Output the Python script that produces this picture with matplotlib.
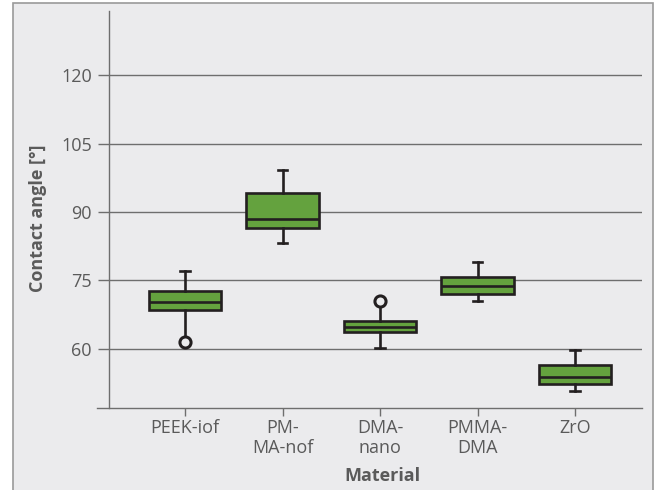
import matplotlib
matplotlib.use("Agg")
import matplotlib.pyplot as plt
from matplotlib.patches import Rectangle
from matplotlib.lines import Line2D

plt.rcParams['font.family'] = ['Open Sans', 'DejaVu Sans']

# data
materials = ["PEEK-iof", "PM-\nMA-nof", "DMA-\nnano", "PMMA-\nDMA", "ZrO"]
q1 = [68.4, 86.4, 63.7, 72.1, 52.2]
med = [70.2, 88.4, 64.8, 73.8, 53.8]
q3 = [72.6, 94.1, 66.0, 75.7, 56.5]
whis_lo = [61.5, 83.3, 60.2, 70.5, 50.7]
whis_hi = [77.0, 99.3, 70.4, 79.0, 59.7]
outliers = [[61.5], [], [70.4], [], []]
yticks = [60, 75, 90, 105, 120]

bg = '#ebebed'
txt = '#5a5a5a'
edge = '#231f20'
green = '#64a23e'
axc = '#6e6e6e'

fig = plt.figure(figsize=(6.6, 4.9), dpi=100)
fig.patch.set_facecolor('white')
fig.patches.append(Rectangle((12.5 / 660, -0.01), (653.3 - 12.5) / 660, 1 - 3.5 / 490 + 0.01,
                             transform=fig.transFigure, facecolor=bg,
                             edgecolor='#9a9a9a', lw=1.2, zorder=-5))

x0, x1, yb, yt = 108.5, 642, 407.5, 11
ax = fig.add_axes([x0 / 660, 1 - yb / 490, (x1 - x0) / 660, (yb - yt) / 490])
ax.set_facecolor('none')

stats = []
for i in range(len(materials)):
    stats.append(dict(med=med[i], q1=q1[i], q3=q3[i], whislo=whis_lo[i],
                      whishi=whis_hi[i], fliers=outliers[i]))

for y in yticks:
    ax.axhline(y, color=axc, lw=1.0, zorder=1)

lw = 1.9
ax.bxp(stats, positions=range(1, 6), widths=0.745, patch_artist=True,
       boxprops=dict(facecolor=green, edgecolor=edge, lw=lw),
       medianprops=dict(color=edge, lw=lw),
       whiskerprops=dict(color=edge, lw=lw),
       capprops=dict(color=edge, lw=lw),
       capwidths=0.095,
       flierprops=dict(marker='o', markersize=8, markerfacecolor=bg,
                       markeredgecolor=edge, markeredgewidth=2.2),
       zorder=3)
for ln in ax.lines:
    if ln.get_marker() == 'o':
        ln.set_zorder(5)

ax.set_xlim(0.215, 0.215 + (x1 - x0) / 97.5)
ax.set_ylim(47.11, 134.12)
ax.set_yticks(yticks)
ax.set_xticks(range(1, 6))
ax.set_xticklabels(materials)

for s in ['top', 'right', 'bottom']:
    ax.spines[s].set_visible(False)
ax.spines['left'].set_color(axc)
ax.spines['left'].set_linewidth(1.0)
# bottom axis line extended under the y ticks
fig.add_artist(Line2D([97 / 660, x1 / 660], [1 - yb / 490, 1 - yb / 490],
                      color=axc, lw=1.0, transform=fig.transFigure))

ax.tick_params(axis='y', length=8, width=1.0, color=axc, labelcolor=txt,
               labelsize=13, pad=4)
ax.tick_params(axis='x', length=6, width=1.0, color=axc, labelcolor=txt,
               labelsize=13, pad=2)

fig.text(38 / 660, 1 - 218 / 490, "Contact angle [°]", rotation=90, ha='center',
         va='center', fontsize=13, fontweight='bold', color=txt)
fig.text(382 / 660, 1 - 476 / 490, "Material", ha='center', va='center',
         fontsize=13, fontweight='bold', color=txt)

fig.savefig("out.png", dpi=100)
